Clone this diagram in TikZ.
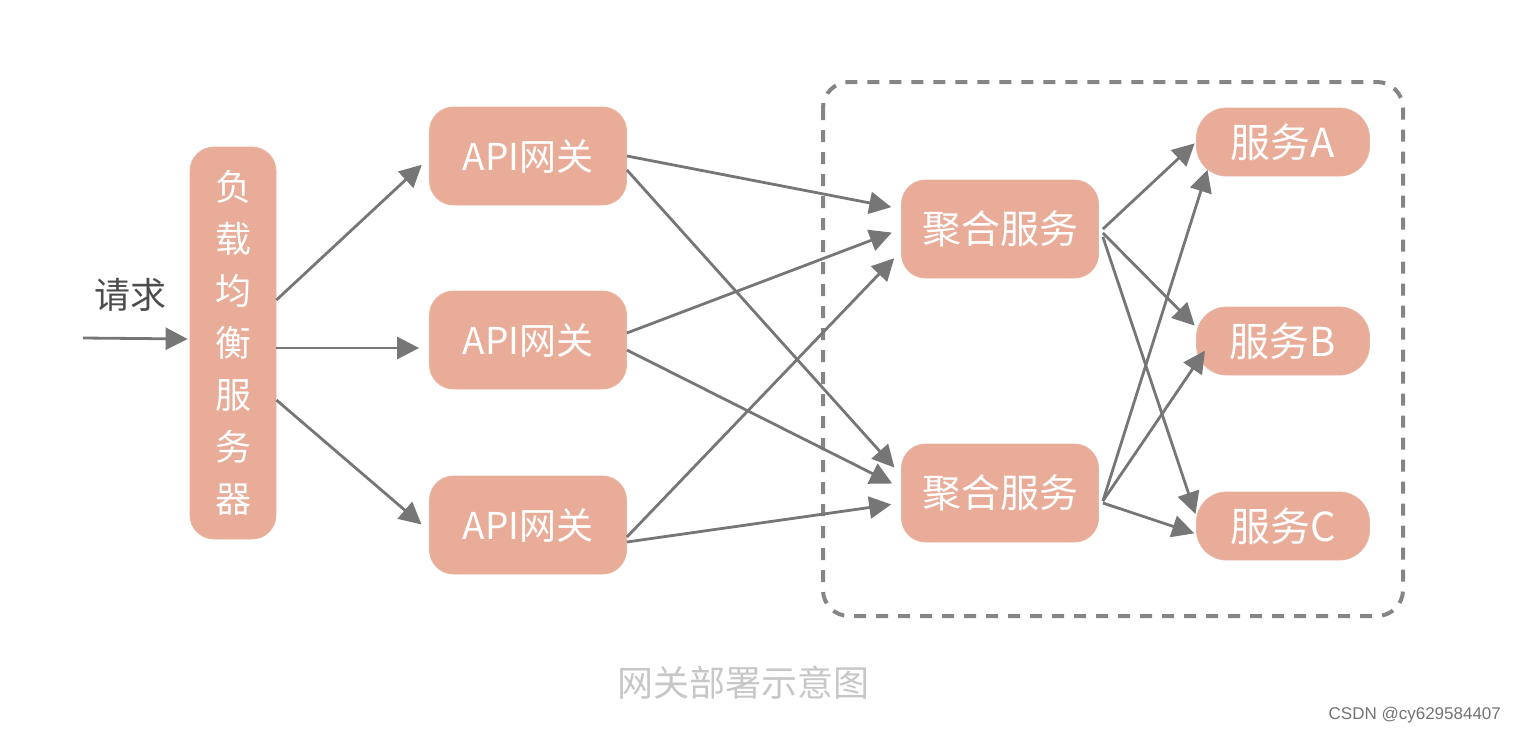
\documentclass[tikz,border=0pt]{standalone}
\usepackage{fontspec}
\setmainfont{Noto Sans CJK SC}
\newfontfamily\wmfont{Liberation Sans}
\usetikzlibrary{arrows.meta, calc, positioning}
\definecolor{boxf}{HTML}{E8AC98}
\definecolor{linec}{HTML}{767676}
\definecolor{framec}{HTML}{858585}

\begin{document}
\begin{tikzpicture}[x=0.5pt, y=-0.5pt,
            box/.style={draw = boxf!90!white, fill = boxf, text = white, rounded corners=12pt,
                        inner sep=0pt, font=\fontsize{18.5}{20}\selectfont},
            apibox/.style={box, minimum width=98.5pt, minimum height=49pt},
            aggbox/.style={apibox, font=\fontsize{19.5}{22}\selectfont},
            svcbox/.style={box, minimum width=86.5pt, minimum height=34pt, rounded corners=15pt,
                           font=\fontsize{20}{22}\selectfont},
            conn/.style={draw = linec, line width=1.4pt, shorten >=5pt,
                         -{Triangle[length=11pt, width=11pt]}}]
        \useasboundingbox (0,0) rectangle (1522,734);
        % load balancer and gateways
        \node[box, minimum width=43pt, minimum height=196pt, align=center,
              font=\fontsize{18}{26}\selectfont] (lb) at (233,343) {负\\载\\均\\衡\\服\\务\\器};
        \node[apibox] (api1) at (528,156) {API网关};
        \node[apibox] (api2) at (528,340) {API网关};
        \node[apibox] (api3) at (528,525) {API网关};
        % aggregation layer
        \node[aggbox] (agg1) at (1000,229) {聚合服务};
        \node[aggbox] (agg2) at (1000,493) {聚合服务};
        \node[svcbox] (svcA) at (1283,142) {服务A};
        \node[svcbox] (svcB) at (1283,341) {服务B};
        \node[svcbox] (svcC) at (1283,526) {服务C};
        \draw[draw = framec, line width=2pt, dash pattern=on 6pt off 5pt, rounded corners=13pt]
            (823,82) rectangle (1403,616);
        % request
        \coordinate (req) at (83,338);
        \node[text = black!70, font=\fontsize{18}{20}\selectfont] (reqlbl) at (130,295) {请求};
        \draw[conn, shorten >=1pt] (req) -- ($(lb.west)+(0,-4)$);
        \draw[conn] ($(lb.east)+(0,-43)$) -- ($(api1.west)+(0,2)$);
        \draw[conn] ($(lb.east)+(0,5)$) -- ($(api2.west)+(0,8)$);
        \draw[conn] ($(lb.east)+(0,57)$) -- ($(api3.west)+(0,6)$);
        \draw[conn] (api1.east) -- ($(agg1.west)+(0,-20)$);
        \draw[conn] ($(api1.east)+(0,14)$) -- ($(agg2.west)+(0,-18)$);
        \draw[conn] ($(api2.east)+(0,-7)$) -- ($(agg1.west)+(0,0)$);
        \draw[conn] ($(api2.east)+(0,10)$) -- ($(agg2.west)+(0,-5)$);
        \draw[conn] ($(api3.east)+(0,12)$) -- ($(agg1.west)+(0,22)$);
        \draw[conn] ($(api3.east)+(0,17)$) -- ($(agg2.west)+(0,10)$);
        \draw[conn, shorten >=1pt] ($(agg1.east)+(4,0)$) -- ($(svcA.west)+(0,0)$);
        \draw[conn, shorten >=1pt] ($(agg1.east)+(4,4)$) -- ($(svcB.west)+(0,-14)$);
        \draw[conn, shorten >=1pt] ($(agg1.east)+(4,8)$) -- ($(svcC.west)+(0,-10)$);
        \draw[conn, shorten >=1pt] ($(agg2.east)+(4,8)$) -- ($(svcA.west)+(12,26)$);
        \draw[conn, shorten >=1pt] ($(agg2.east)+(4,8)$) -- ($(svcB.west)+(10,8)$);
        \draw[conn, shorten >=1pt] ($(agg2.east)+(4,10)$) -- ($(svcC.west)+(0,8)$);
        % caption
        \node[text = black!22, font=\fontsize{18}{20}\selectfont] (cap) at (743,683) {网关部署示意图};
        \node[text = black!55, font=\wmfont\fontsize{8.5}{10}\selectfont, anchor=east] (wm) at (1508,715) {CSDN @cy629584407};
    \end{tikzpicture}
\end{document}
